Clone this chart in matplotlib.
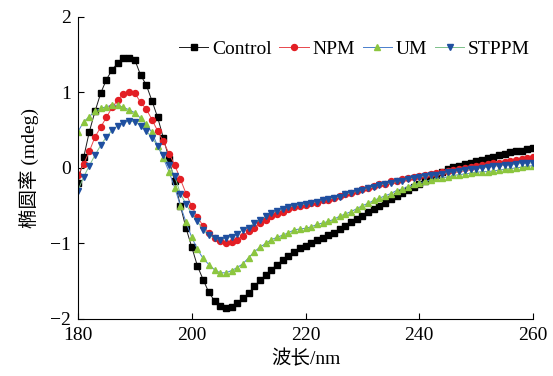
import matplotlib
matplotlib.use("Agg")
import matplotlib.pyplot as plt
import numpy as np

wavelength = list(range(180, 261))

control = [-0.20, 0.14, 0.48, 0.75, 0.99, 1.17, 1.30, 1.39, 1.45, 1.46,
           1.43, 1.23, 1.10, 0.89, 0.67, 0.40, 0.12, -0.18, -0.50, -0.80,
           -1.05, -1.30, -1.48, -1.65, -1.76, -1.83, -1.85, -1.84, -1.79, -1.73,
           -1.66, -1.57, -1.49, -1.42, -1.35, -1.28, -1.22, -1.17, -1.11, -1.06,
           -1.04, -1.00, -0.96, -0.93, -0.89, -0.86, -0.81, -0.77, -0.72, -0.68,
           -0.64, -0.59, -0.55, -0.50, -0.46, -0.41, -0.37, -0.33, -0.29, -0.25,
           -0.21, -0.17, -0.13, -0.09, -0.05, -0.02, 0.01, 0.03, 0.05, 0.07,
           0.09, 0.11, 0.13, 0.15, 0.17, 0.19, 0.21, 0.22, 0.23, 0.25,
           0.26]

npm = [-0.10, 0.05, 0.22, 0.41, 0.54, 0.67, 0.80, 0.90, 0.98, 1.00,
       0.99, 0.87, 0.78, 0.64, 0.49, 0.35, 0.19, 0.04, -0.15, -0.34,
       -0.51, -0.65, -0.77, -0.86, -0.93, -0.97, -0.99, -0.98, -0.95, -0.90,
       -0.84, -0.79, -0.73, -0.69, -0.64, -0.61, -0.58, -0.55, -0.52, -0.50,
       -0.49, -0.47, -0.46, -0.43, -0.42, -0.40, -0.37, -0.35, -0.33, -0.30,
       -0.28, -0.26, -0.24, -0.22, -0.21, -0.18, -0.17, -0.15, -0.14, -0.12,
       -0.11, -0.09, -0.08, -0.07, -0.05, -0.04, -0.03, -0.01, 0.00, 0.01,
       0.02, 0.04, 0.05, 0.06, 0.07, 0.08, 0.09, 0.10, 0.12, 0.13,
       0.15]

um = [0.48, 0.61, 0.68, 0.75, 0.79, 0.81, 0.83, 0.83, 0.80, 0.77,
      0.73, 0.66, 0.58, 0.47, 0.29, 0.13, -0.05, -0.26, -0.50, -0.72,
      -0.92, -1.08, -1.20, -1.28, -1.35, -1.39, -1.39, -1.36, -1.32, -1.27,
      -1.19, -1.11, -1.05, -1.00, -0.95, -0.92, -0.89, -0.86, -0.82, -0.81,
      -0.80, -0.78, -0.75, -0.73, -0.71, -0.68, -0.64, -0.61, -0.58, -0.54,
      -0.50, -0.47, -0.43, -0.40, -0.37, -0.34, -0.30, -0.28, -0.25, -0.22,
      -0.20, -0.18, -0.16, -0.14, -0.13, -0.12, -0.10, -0.09, -0.08, -0.07,
      -0.06, -0.05, -0.05, -0.04, -0.03, -0.02, -0.01, 0.00, 0.01, 0.02,
      0.03]

stppm = [-0.30, -0.12, 0.03, 0.17, 0.30, 0.41, 0.50, 0.56, 0.60, 0.62,
         0.61, 0.56, 0.49, 0.40, 0.29, 0.17, 0.04, -0.11, -0.34, -0.48,
         -0.61, -0.71, -0.82, -0.89, -0.93, -0.95, -0.93, -0.91, -0.87, -0.82,
         -0.79, -0.73, -0.69, -0.64, -0.60, -0.57, -0.55, -0.52, -0.50, -0.49,
         -0.48, -0.46, -0.45, -0.42, -0.41, -0.40, -0.38, -0.35, -0.33, -0.31,
         -0.29, -0.27, -0.25, -0.23, -0.21, -0.20, -0.18, -0.17, -0.15, -0.13,
         -0.12, -0.11, -0.10, -0.09, -0.08, -0.06, -0.05, -0.04, -0.03, -0.02,
         -0.01, 0.00, 0.01, 0.02, 0.03, 0.04, 0.04, 0.05, 0.06, 0.06,
         0.07]

xticks = [180, 200, 220, 240, 260]
yticks = [-2, -1, 0, 1, 2]

plt.rcParams['font.family'] = ['Liberation Serif', 'Noto Sans CJK SC']

fig = plt.figure(figsize=(5.53, 3.76), dpi=100)
ax = fig.add_axes([0.141, 0.152, 0.823, 0.803])

ax.plot(wavelength, control, color='#1a1a1a', lw=0.7, marker='s', ms=4,
        mfc='black', mec='black', label='Control')
ax.plot(wavelength, npm, color='#e8474c', lw=0.7, marker='o', ms=4.3,
        mfc='#e31e24', mec='#e31e24', label='NPM')
ax.plot(wavelength, um, color='#4a7fcc', lw=0.7, marker='^', ms=5,
        mfc='#8cc63f', mec='#8cc63f', label='UM')
ax.plot(wavelength, stppm, color='#7cc08a', lw=0.7, marker='v', ms=5,
        mfc='#1f4fa0', mec='#1f4fa0', label='STPPM')

ax.set_xlim(180, 260)
ax.set_ylim(-2, 2)
ax.set_xticks(xticks)
ax.set_yticks(yticks)
ax.set_yticklabels(['\u22122', '\u22121', '0', '1', '2'])
ax.tick_params(direction='in', length=4, width=0.8, labelsize=14)
ax.tick_params(axis='x', pad=6)
ax.tick_params(axis='y', pad=5)
for s in ['top', 'right']:
    ax.spines[s].set_visible(False)
for s in ['left', 'bottom']:
    ax.spines[s].set_linewidth(0.8)

ax.set_xlabel('波长/nm', fontsize=14, labelpad=4)
ax.set_ylabel('椭圆率 (mdeg)', fontsize=14, labelpad=8)

ax.legend(loc='upper right', bbox_to_anchor=(1.015, 0.955), ncol=4, frameon=False,
          fontsize=14, handlelength=1.5, handletextpad=0.2, columnspacing=0.4,
          borderaxespad=0.1)

fig.savefig('out.png', dpi=100)
